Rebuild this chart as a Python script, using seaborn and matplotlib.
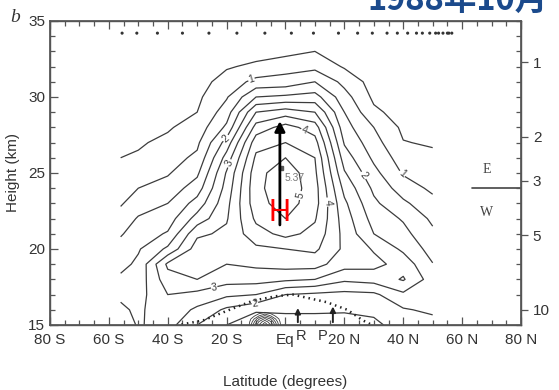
import numpy as np
import pandas as pd
import seaborn as sns
import matplotlib
matplotlib.use('Agg')
import matplotlib.pyplot as plt

# grid
lats = [-56, -50, -40, -30, -20, -10, 0, 10, 20, 30, 40, 50]
heights = list(range(15, 35))  # km, one value per km
# one column per latitude, from 15 km up to 34 km
col_s56 = [2.8, 2.6, 2.4, 2.1, 1.85, 1.7, 1.45, 1.2, 0.95, 0.8, 0.65, 0.5, 0.4, 0.3, 0.25, 0.2, 0.15, 0.1, 0.1, 0.1]
col_s50 = [2.45, 2.4, 2.3, 2.2, 2.1, 1.95, 1.75, 1.55, 1.25, 1.0, 0.8, 0.55, 0.45, 0.35, 0.3, 0.25, 0.2, 0.1, 0.1, 0.1]
col_s40 = [2.7, 2.85, 3.0, 3.3, 3.6, 2.6, 2.05, 1.75, 1.5, 1.2, 0.95, 0.8, 0.6, 0.45, 0.35, 0.3, 0.25, 0.2, 0.15, 0.1]
col_s30 = [2.0, 2.4, 2.85, 3.5, 3.8, 3.75, 3.4, 2.7, 2.2, 1.75, 1.4, 1.1, 0.9, 0.7, 0.5, 0.4, 0.3, 0.2, 0.15, 0.1]
col_s20 = [1.5, 1.9, 2.6, 3.2, 3.5, 3.6, 3.6, 3.45, 3.35, 3.2, 3.05, 2.7, 2.2, 1.6, 1.25, 0.95, 0.7, 0.45, 0.3, 0.2]
col_s10 = [1.0, 1.6, 2.5, 3.2, 3.6, 3.9, 4.3, 4.6, 4.8, 4.85, 4.8, 4.6, 4.3, 3.7, 3.0, 2.0, 1.15, 0.6, 0.3, 0.15]
col_eq = [1.2, 1.6, 2.0, 3.1, 3.7, 4.0, 4.65, 5.0, 5.25, 5.37, 5.35, 5.0, 4.5, 4.2, 3.25, 2.1, 1.2, 0.8, 0.35, 0.2]
col_n10 = [1.2, 1.6, 1.9, 3.0, 3.7, 4.1, 4.35, 4.55, 4.7, 4.7, 4.6, 4.5, 4.2, 3.75, 3.0, 2.2, 1.5, 0.85, 0.5, 0.25]
col_n20 = [1.3, 1.55, 1.85, 2.6, 3.2, 3.4, 3.35, 3.25, 3.1, 2.85, 2.55, 2.25, 1.95, 1.7, 1.5, 1.2, 0.85, 0.45, 0.3, 0.2]
col_n30 = [1.4, 1.6, 1.9, 2.7, 3.15, 2.95, 2.5, 2.3, 2.1, 1.9, 1.65, 1.4, 1.2, 1.0, 0.6, 0.4, 0.3, 0.2, 0.15, 0.1]
col_n40 = [1.7, 1.95, 2.4, 3.05, 2.8, 2.4, 2.15, 1.95, 1.6, 1.25, 0.95, 0.75, 0.52, 0.4, 0.3, 0.25, 0.2, 0.15, 0.1, 0.1]
col_n50 = [1.8, 2.1, 2.3, 2.25, 2.02, 1.8, 1.6, 1.4, 1.15, 0.9, 0.75, 0.6, 0.45, 0.35, 0.3, 0.25, 0.2, 0.15, 0.1, 0.1]
levels = [0.5, 1.0, 1.5, 2.0, 2.5, 3.0, 3.5, 4.0, 4.5, 5.0]

# small cluster of tight contours just above 15 km
patch_lats = [-13, -11, -9, -7, -5, -3, -1]
patch_heights = [15.0, 15.2, 15.4, 15.6, 15.8, 16.0]
patch_rows = [
    [0, 1.5, 3.0, 4.0, 3.0, 1.5, 0],
    [0, 1.2, 2.6, 3.4, 2.6, 1.2, 0],
    [0, 0.8, 1.9, 2.6, 1.9, 0.8, 0],
    [0, 0.3, 1.0, 1.6, 1.0, 0.3, 0],
    [0, 0.0, 0.3, 0.6, 0.3, 0.0, 0],
    [0, 0, 0, 0, 0, 0, 0],
]
patch_levels = [0.5, 1.0, 1.5, 2.0, 2.5, 3.0, 3.5]

# tropopause (dotted)
trop_lats = [-39, -28, -19, -11, -3, 2.5, 14, 21, 26.3, 29.4]
trop_heights = [14.9, 15.3, 16.0, 16.6, 16.9, 17.0, 16.5, 16.0, 15.3, 15.0]

# sampling latitudes shown as dots along the top
dot_lats = [-55.5, -50.5, -43.5, -35, -26, -16.5, -7, 2, 9.5, 18, 24.5, 29.5, 34.5, 38,
            41.5, 44.5, 46.5, 49, 51, 52, 53.5, 55, 55.5, 56.5]

# contour label spots (lat, km)
label_spots = [(-11.4, 31.0), (38.9, 24.7), (-20.6, 27.4), (23.6, 24.2), (-18.2, 25.5),
               (16.8, 23.2), (6.0, 27.5), (6.6, 23.4), (-24, 17.1), (-10.4, 16.5)]

x_ticks = [-80, -60, -40, -20, 0, 20, 40, 60, 80]
x_ticklabels = ['80 S', '60 S', '40 S', '20 S', 'Eq', '20 N', '40 N', '60 N', '80 N']
right_tick_heights = [32.3, 27.4, 24.5, 20.9, 16.0]
right_ticklabels = ['1', '2', '3', '5', '10']

# arrow for the rising branch, and the R / P markers
arrow_lat, arrow_base, arrow_top = -1.9, 21.4, 28.6
rp_lats = [4.2, 16.1]
rp_tops = [16.3, 16.4]
rp_names = ['R', 'P']
rp_label_lats = [5.4, 12.6]

sns.set_theme(style='ticks')
plt.rcParams['font.family'] = ['Liberation Sans', 'DejaVu Sans']

fig = plt.figure(figsize=(5.59, 3.90), dpi=100)
ax = fig.add_axes([0.0894, 0.1667, 0.8426, 0.7795])

field = np.array([col_s56, col_s50, col_s40, col_s30, col_s20, col_s10, col_eq,
                  col_n10, col_n20, col_n30, col_n40, col_n50]).T
line_col = '#3c3c3c'
half_levels = [lv for lv in levels if lv % 1]
whole_levels = [lv for lv in levels if not lv % 1]
ax.contour(lats, heights, field, levels=half_levels, colors=line_col, linewidths=0.9)
cs = ax.contour(lats, heights, field, levels=whole_levels, colors=line_col, linewidths=0.9)
ax.clabel(cs, manual=label_spots, fmt='%d', fontsize=7.5, inline=True, inline_spacing=2)
ax.contour(patch_lats, patch_heights, np.array(patch_rows), levels=patch_levels, colors=line_col, linewidths=0.6)

trop = pd.DataFrame({'lat': trop_lats, 'z': trop_heights})
sns.lineplot(data=trop, x='lat', y='z', sort=False, estimator=None, color='#222222', lw=1.8,
             linestyle=(0, (0.6, 1.6)), ax=ax)

dots = pd.DataFrame({'lat': dot_lats, 'z': 34.2})
sns.scatterplot(data=dots, x='lat', y='z', s=5, color='#333333', edgecolor='none', ax=ax)

ax.annotate('', xy=(arrow_lat, arrow_top), xytext=(arrow_lat, arrow_base),
            arrowprops=dict(arrowstyle='-|>', lw=2.0, color='black', mutation_scale=15))
ax.text(-2.2, 22.4, 'H', color='red', fontsize=22, ha='center', va='center')
ax.plot([-1.5], [25.3], marker='s', ms=2.5, color='#555555')
ax.text(-0.3, 24.7, '5.37', fontsize=7.5, color='#777777', va='center')

for lat_r, top_r in zip(rp_lats, rp_tops):
    ax.annotate('', xy=(lat_r, top_r), xytext=(lat_r, 15.0),
                arrowprops=dict(arrowstyle='-|>', lw=1.4, color='#222222', mutation_scale=8))
for lat_t, name in zip(rp_label_lats, rp_names):
    ax.text(lat_t, 14.75, name, fontsize=10.5, color='#333333', ha='center', va='top', clip_on=False)

# easterly / westerly marker on the right
ax.plot([63.3, 80], [24.0, 24.0], color='#444444', lw=1.2, clip_on=False)
ax.text(68.4, 25.25, 'E', family='Liberation Serif', fontsize=10, color='#444444', ha='center', va='center')
ax.text(68.4, 22.4, 'W', family='Liberation Serif', fontsize=10, color='#444444', ha='center', va='center')

ax.set_xlim(-80, 80)
ax.set_ylim(15, 35)
ax.set_xticks(x_ticks)
ax.set_xticklabels(x_ticklabels)
ax.set_xticks(np.arange(-80, 81, 5), minor=True)
ax.set_yticks([15, 20, 25, 30, 35])
ax.set_yticks(np.arange(15, 36, 1), minor=True)
ax.tick_params(which='both', direction='in', top=True, right=False, color='#555555',
               labelsize=11, labelcolor='#333333', width=0.9)
ax.tick_params(which='major', length=6)
ax.tick_params(which='minor', length=3.5)
ax.tick_params(axis='x', which='major', pad=6)
ax.set_xlabel('Latitude (degrees)', fontsize=11, color='#333333', labelpad=20)
ax.set_ylabel('Height (km)', fontsize=11, color='#333333', labelpad=6)
for sp in ax.spines.values():
    sp.set_color('#555555')
    sp.set_linewidth(1.0)

rax = ax.twinx()
rax.set_ylim(15, 35)
rax.set_yticks(right_tick_heights)
rax.set_yticklabels(right_ticklabels)
rax.set_yticks(np.arange(15, 36, 1), minor=True)
rax.tick_params(which='major', direction='out', length=5, color='#555555', labelsize=11, labelcolor='#333333', width=0.9)
rax.tick_params(which='minor', direction='in', length=3.5, color='#555555', width=0.9)
rax.grid(False)
for sp in rax.spines.values():
    sp.set_color('#555555')

fig.text(0.027, 0.955, 'b', family='Liberation Serif', style='italic', fontsize=14, color='#333333',
         ha='center', va='center')
fig.text(0.818, 0.974, '1988年10月', family=['Noto Sans CJK SC', 'DejaVu Sans'], fontweight='bold',
         fontsize=23.5, color='#1b4a8c', ha='center', va='baseline')

fig.savefig('out.png', dpi=100)
